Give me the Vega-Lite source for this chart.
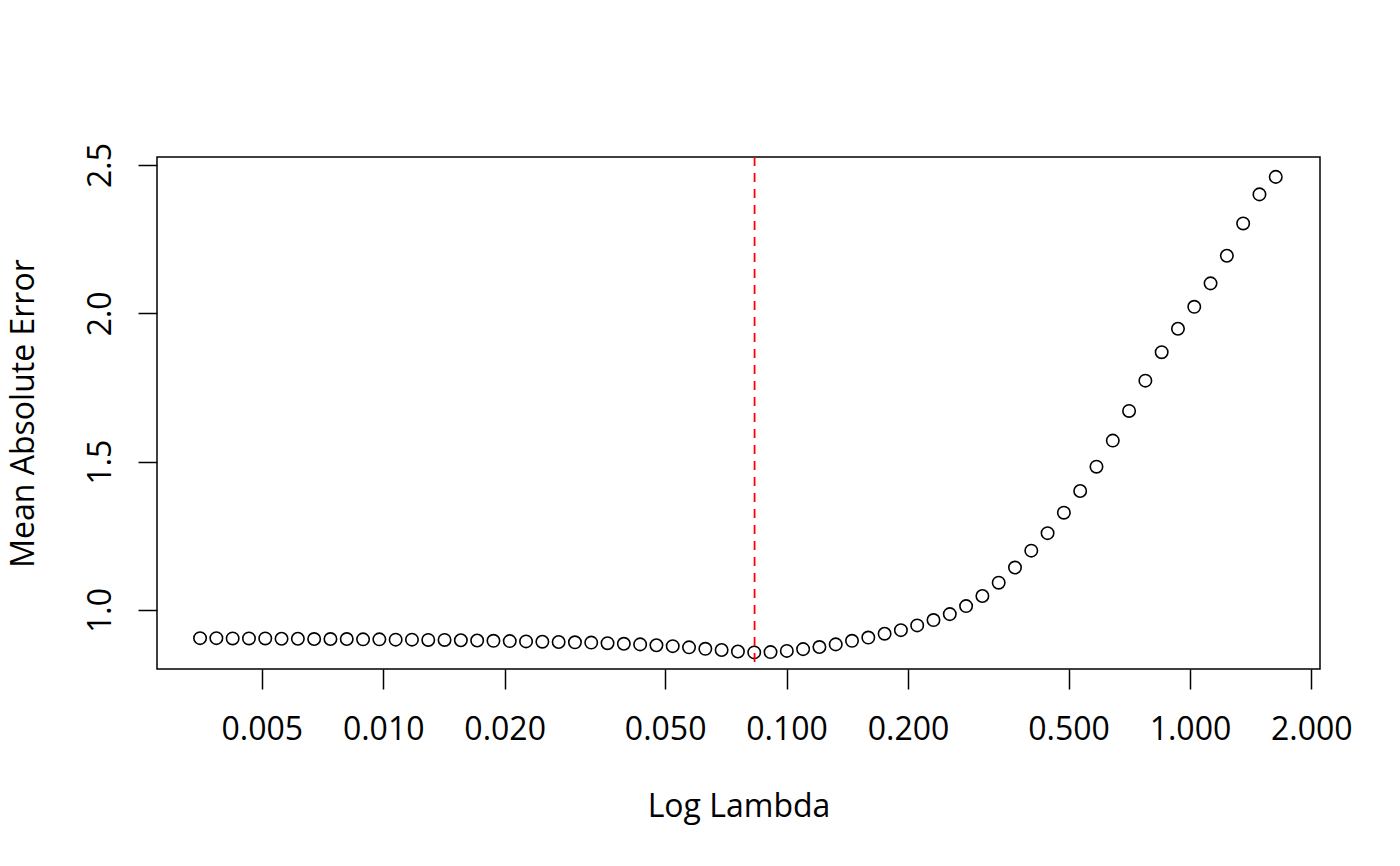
{
  "$schema": "https://vega.github.io/schema/vega-lite/v6.json",
  "autosize": {"type": "none"},
  "padding": {"left": 157, "top": 157, "right": 80, "bottom": 197},
  "width": 1163,
  "height": 512,
  "background": "white",
  "config": {
    "font": "Open Sans",
    "view": {"stroke": "black", "strokeWidth": 1.5},
    "axis": {
      "grid": false,
      "domain": false,
      "tickColor": "black",
      "tickWidth": 1.5,
      "labelColor": "black",
      "titleColor": "black",
      "labelFont": "Open Sans",
      "titleFont": "Open Sans",
      "labelFontSize": 32,
      "titleFontSize": 32,
      "titleFontWeight": "normal"
    }
  },
  "layer": [
    {
      "data": {"values": [
        {"lambda": 0.003515, "mae": 0.905},
        {"lambda": 0.003858, "mae": 0.905},
        {"lambda": 0.004234, "mae": 0.904},
        {"lambda": 0.004647, "mae": 0.904},
        {"lambda": 0.0051, "mae": 0.904},
        {"lambda": 0.005597, "mae": 0.903},
        {"lambda": 0.006143, "mae": 0.903},
        {"lambda": 0.006742, "mae": 0.902},
        {"lambda": 0.007399, "mae": 0.902},
        {"lambda": 0.008121, "mae": 0.902},
        {"lambda": 0.008913, "mae": 0.901},
        {"lambda": 0.009782, "mae": 0.901},
        {"lambda": 0.010736, "mae": 0.9},
        {"lambda": 0.011783, "mae": 0.9},
        {"lambda": 0.012932, "mae": 0.899},
        {"lambda": 0.014193, "mae": 0.899},
        {"lambda": 0.015577, "mae": 0.898},
        {"lambda": 0.017096, "mae": 0.897},
        {"lambda": 0.018763, "mae": 0.896},
        {"lambda": 0.020592, "mae": 0.895},
        {"lambda": 0.0226, "mae": 0.894},
        {"lambda": 0.024804, "mae": 0.893},
        {"lambda": 0.027222, "mae": 0.892},
        {"lambda": 0.029876, "mae": 0.891},
        {"lambda": 0.032789, "mae": 0.89},
        {"lambda": 0.035986, "mae": 0.888},
        {"lambda": 0.039495, "mae": 0.886},
        {"lambda": 0.043346, "mae": 0.884},
        {"lambda": 0.047572, "mae": 0.881},
        {"lambda": 0.05221, "mae": 0.878},
        {"lambda": 0.057301, "mae": 0.874},
        {"lambda": 0.062888, "mae": 0.869},
        {"lambda": 0.069019, "mae": 0.865},
        {"lambda": 0.075749, "mae": 0.86},
        {"lambda": 0.083134, "mae": 0.857},
        {"lambda": 0.09124, "mae": 0.858},
        {"lambda": 0.100136, "mae": 0.862},
        {"lambda": 0.109899, "mae": 0.868},
        {"lambda": 0.120614, "mae": 0.875},
        {"lambda": 0.132374, "mae": 0.884},
        {"lambda": 0.145281, "mae": 0.896},
        {"lambda": 0.159446, "mae": 0.907},
        {"lambda": 0.174992, "mae": 0.92},
        {"lambda": 0.192054, "mae": 0.932},
        {"lambda": 0.210779, "mae": 0.948},
        {"lambda": 0.23133, "mae": 0.966},
        {"lambda": 0.253885, "mae": 0.986},
        {"lambda": 0.278639, "mae": 1.013},
        {"lambda": 0.305806, "mae": 1.047},
        {"lambda": 0.335622, "mae": 1.092},
        {"lambda": 0.368345, "mae": 1.143},
        {"lambda": 0.404259, "mae": 1.2},
        {"lambda": 0.443674, "mae": 1.259},
        {"lambda": 0.486932, "mae": 1.328},
        {"lambda": 0.534408, "mae": 1.401},
        {"lambda": 0.586513, "mae": 1.483},
        {"lambda": 0.643698, "mae": 1.571},
        {"lambda": 0.706459, "mae": 1.671},
        {"lambda": 0.775339, "mae": 1.773},
        {"lambda": 0.850935, "mae": 1.869},
        {"lambda": 0.933901, "mae": 1.948},
        {"lambda": 1.024956, "mae": 2.022},
        {"lambda": 1.124889, "mae": 2.101},
        {"lambda": 1.234566, "mae": 2.194},
        {"lambda": 1.354936, "mae": 2.303},
        {"lambda": 1.487042, "mae": 2.401},
        {"lambda": 1.632029, "mae": 2.46}
      ]},
      "mark": {"type": "point", "shape": "circle", "filled": false, "color": "black", "strokeWidth": 1.6, "size": 154, "opacity": 1},
      "encoding": {
        "x": {
          "field": "lambda", "type": "quantitative",
          "scale": {"type": "log", "domain": [0.002749, 2.101], "nice": false, "zero": false},
          "axis": {
            "values": [0.005, 0.01, 0.02, 0.05, 0.1, 0.2, 0.5, 1, 2],
            "format": ".3f",
            "tickSize": 20,
            "labelPadding": 50,
            "labelBaseline": "alphabetic",
            "labelFlush": false,
            "labelOverlap": false,
            "title": "Log Lambda",
            "titleBaseline": "alphabetic",
            "titleX": 581.5,
            "titleY": 147,
            "titleAlign": "center"
          }
        },
        "y": {
          "field": "mae", "type": "quantitative",
          "scale": {"domain": [0.801, 2.527], "nice": false, "zero": false},
          "axis": {
            "values": [1.0, 1.5, 2.0, 2.5],
            "format": ".1f",
            "tickSize": 19,
            "labelAngle": -90,
            "labelAlign": "center",
            "labelBaseline": "alphabetic",
            "labelPadding": 28,
            "labelFlush": false,
            "labelOverlap": false,
            "title": "Mean Absolute Error",
            "titleAngle": -90,
            "titleBaseline": "alphabetic",
            "titleAlign": "center",
            "titleX": -124,
            "titleY": 256
          }
        }
      }
    },
    {
      "data": {"values": [{"lambda_min": 0.0833}]},
      "mark": {"type": "rule", "color": "#FF0000", "strokeWidth": 1.8, "strokeDash": [9, 7]},
      "encoding": {
        "x": {"field": "lambda_min", "type": "quantitative"}
      }
    }
  ]
}
